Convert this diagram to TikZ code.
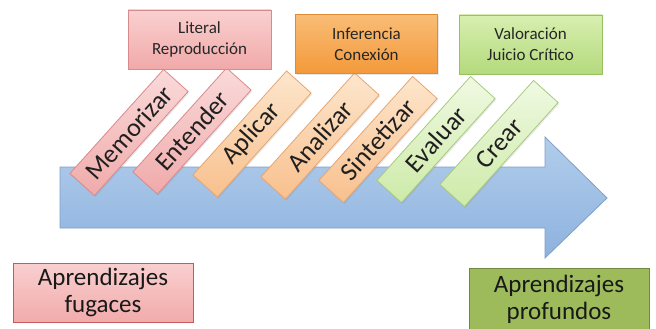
\documentclass[tikz,border=0pt]{standalone}
\usepackage{fontspec}
\setmainfont{Carlito}
\usetikzlibrary{shadows}
\definecolor{pinkT}{HTML}{FADADA}
\definecolor{pinkB}{HTML}{F0AAAA}
\definecolor{pinkL}{HTML}{D98A8C}
\definecolor{litT}{HTML}{FAD0D0}
\definecolor{litB}{HTML}{F1A9A9}
\definecolor{oraT}{HTML}{FDE6CC}
\definecolor{oraB}{HTML}{F8C08E}
\definecolor{oraL}{HTML}{E6A672}
\definecolor{infT}{HTML}{F9BD76}
\definecolor{infB}{HTML}{F3993A}
\definecolor{infL}{HTML}{E08A34}
\definecolor{grnT}{HTML}{F0F9E2}
\definecolor{grnB}{HTML}{CDEAA8}
\definecolor{grnL}{HTML}{A6CB7E}
\definecolor{valT}{HTML}{D8EFB0}
\definecolor{valB}{HTML}{B3DA7C}
\definecolor{valL}{HTML}{98C062}
\definecolor{arrT}{HTML}{B2CDEB}
\definecolor{arrB}{HTML}{8DB2DE}
\definecolor{arrL}{HTML}{7E9FC8}
\definecolor{fugT}{HTML}{F9CFCF}
\definecolor{fugB}{HTML}{F2ABAB}
\definecolor{fugL}{HTML}{C45A5A}
\definecolor{proF}{HTML}{9DBB5B}
\definecolor{proL}{HTML}{72893F}
\begin{document}
\begin{tikzpicture}[x=1pt,y=-1pt,
  shadowed/.style={drop shadow={opacity=0.18,shadow xshift=1pt,shadow yshift=-1.5pt}},
  tabbox/.style={shadowed,minimum width=140pt,minimum height=33pt,inner sep=0pt,rotate=48,
    font=\fontsize{26}{28}\selectfont,text=black!88,line width=0.8pt},
  pinktab/.style={tabbox,draw=pinkL,top color=pinkT,bottom color=pinkB},
  oratab/.style={tabbox,draw=oraL,top color=oraT,bottom color=oraB},
  grntab/.style={tabbox,draw=grnL,top color=grnT,bottom color=grnB},
  topbox/.style={shadowed,minimum width=143pt,minimum height=59pt,inner sep=0pt,align=center,
    font=\fontsize{17}{21}\selectfont,text=black!85,line width=0.8pt},
  endbox/.style={minimum width=180pt,minimum height=59pt,inner sep=0pt,align=center,
    font=\fontsize{25}{27}\selectfont,text=black!90,line width=0.9pt}
]
\useasboundingbox (0,0) rectangle (656,329);
% big arrow
\shade[top color=arrT,bottom color=arrB,draw=arrL,line width=0.8pt]
  (60,167) -- (545,167) -- (545,137) -- (607,198) -- (545,258) -- (545,228) -- (60,228) -- cycle;
% tabs
\node[pinktab] (mem) at (129,132.5) {Memorizar};
\node[pinktab] (ent) at (192,131) {Entender};
\node[oratab] (apl) at (252,134) {Aplicar};
\node[oratab] (ana) at (320,136) {Analizar};
\node[oratab] (sin) at (378,139.5) {Sintetizar};
\node[grntab] (eva) at (436,139.5) {Evaluar};
\node[grntab] (cre) at (499,143.5) {Crear};
% top boxes
\node[topbox,draw=pinkL,top color=litT,bottom color=litB] (lit) at (199.5,39.5) {Literal\\Reproducción};
\node[topbox,minimum width=142pt,draw=infL,top color=infT,bottom color=infB] (inf) at (366.5,44) {Inferencia\\Conexión};
\node[topbox,draw=valL,top color=valT,bottom color=valB] (val) at (530.5,44.5) {Valoración\\Juicio Crítico};
% bottom boxes
\node[endbox,draw=fugL,top color=fugT,bottom color=fugB] (fug) at (103,292.5) {Aprendizajes\\fugaces};
\node[endbox,minimum height=62pt,draw=proL,fill=proF] (pro) at (559,299) {Aprendizajes\\profundos};
\end{tikzpicture}
\end{document}
